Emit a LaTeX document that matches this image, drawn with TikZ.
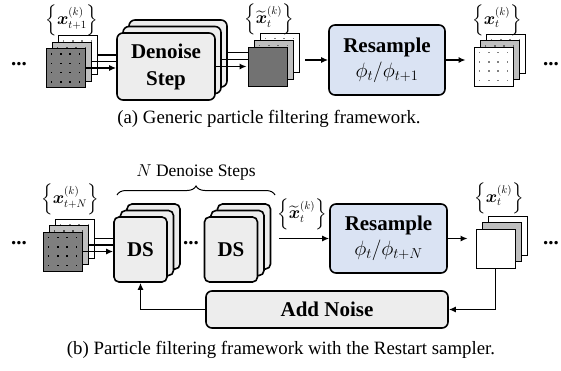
\documentclass[tikz,border=0pt]{standalone}
\usepackage{amsmath}
\usepackage{fontspec}
\setmainfont{Liberation Serif}
\usetikzlibrary{arrows.meta, decorations.pathreplacing, positioning}

\definecolor{boxgray}{HTML}{EDEDED}
\definecolor{resblue}{HTML}{DAE3F3}
\definecolor{sqmid}{HTML}{BFBFBF}
\definecolor{sqdark}{HTML}{7F7F7F}

\tikzset{
    sq/.style={draw, line width=0.8pt, minimum size=39pt, inner sep=0pt},
    dotgrid/.style={path picture={
        \foreach \u in {0.14,0.38,0.62,0.86}
            \foreach \v in {0.14,0.38,0.62,0.86}
                \fill[#1] ([shift={(\u*39pt-0.7pt,\v*39pt-0.7pt)}]path picture bounding box.south west) rectangle ++(1.4pt,1.4pt);
    }},
}

\begin{document}
\begin{tikzpicture}[x=1pt, y=-1pt,
        box/.style={draw, line width=1.6pt, rounded corners=6pt, fill=boxgray, inner sep=0pt,
            align=center, font=\fontsize{21}{27}\selectfont\bfseries},
        arr/.style={line width=1.5pt, -{Latex[length=7pt,width=6pt]}},
        lnk/.style={line width=1.5pt},
        lbl/.style={font=\fontsize{16}{19}\selectfont, inner sep=0pt},
        captext/.style={font=\fontsize{18.8}{22}\selectfont},
        more/.style={font=\fontsize{21}{25}\selectfont\bfseries},
    ]
    \useasboundingbox (0,0) rectangle (561,370);

    % (a) generic particle filtering
    \node[more] (more1l) at (19,64) {...};

    \node[sq, fill=white, dotgrid=gray] (in1a) at (77.5,55) {};
    \node[sq, fill=sqmid, dotgrid=black!70] (in1b) at (71.5,61.5) {};
    \node[sq, fill=sqdark, dotgrid=black] (in1c) at (65.5,68) {};
    \node[lbl] (lblin1) at (72,20) {$\Bigl\{\boldsymbol{x}_{t+1}^{(k)}\Bigr\}$};

    \node[box, minimum width=98pt, minimum height=67pt] (den3) at (178,53.5) {};
    \node[box, minimum width=98pt, minimum height=67pt] (den2) at (172,60) {};
    \node[box, minimum width=98pt, minimum height=67pt] (den1) at (166,66.5) {Denoise\\Step};

    \node[sq, fill=white, dotgrid=gray] (til1a) at (279.5,52.5) {};
    \node[sq, fill=sqmid, dotgrid=black!60] (til1b) at (273.5,59.5) {};
    \node[sq, fill=sqdark!90!black] (til1c) at (267.5,66.5) {};
    \node[lbl] (lbltil1) at (269,19) {$\Bigl\{\widetilde{\boldsymbol{x}}_{t}^{(k)}\Bigr\}$};

    \node[box, fill=resblue, minimum width=116pt, minimum height=70pt] (res1) at (387,60)
        {Resample\\[-2pt]{\mdseries$\phi_t/\phi_{t+1}$}};

    \node[sq, fill=white, dotgrid=gray] (out1a) at (505.5,53.5) {};
    \node[sq, fill=sqmid, dotgrid=black!60] (out1b) at (499.5,60) {};
    \node[sq, fill=white, dotgrid=gray] (out1c) at (493.5,66.5) {};
    \node[lbl] (lblout1) at (497,20) {$\Bigl\{\boldsymbol{x}_{t}^{(k)}\Bigr\}$};
    \node[more] (more1r) at (551,64) {...};

    \draw[lnk] (in1a.east) -- (in1a.east -| den1.west);
    \draw[lnk] (in1b.east) -- (in1b.east -| den1.west);
    \draw[arr] (in1c.east) -- (in1c.east -| den1.west);
    \draw[lnk] (den3.east |- til1a) -- (til1c.west |- til1a);
    \draw[lnk] (den2.east |- til1b) -- (til1c.west |- til1b);
    \draw[arr, shorten >=1pt] (den1.east |- til1c) -- (til1c.west);
    \draw[arr, shorten <=6pt] (til1a.east |- res1.west) -- (res1.west);
    \draw[arr, shorten >=8pt] (res1.east) -- (res1.east -| out1c.west);

    \node[captext] (capa) at (269,119) {(a) Generic particle filtering framework.};

    % (b) restart sampler
    \node[more] (more2l) at (19,243) {...};

    \node[sq, fill=white, dotgrid=gray] (in2a) at (74.5,238.5) {};
    \node[sq, fill=sqmid, dotgrid=black!70] (in2b) at (68.5,245) {};
    \node[sq, fill=sqdark, dotgrid=black] (in2c) at (62.5,251.5) {};
    \node[lbl] (lblin2) at (70,199) {$\Bigl\{\boldsymbol{x}_{t+N}^{(k)}\Bigr\}$};

    \node[box, rounded corners=5pt, minimum width=53pt, minimum height=65pt] (ds1a) at (153.5,236.5) {};
    \node[box, rounded corners=5pt, minimum width=53pt, minimum height=65pt] (ds1b) at (147,243) {};
    \node[box, rounded corners=5pt, minimum width=53pt, minimum height=65pt] (ds1) at (140.5,249.5) {DS};
    \node[more] (dsdots) at (191,243) {...};
    \node[box, rounded corners=5pt, minimum width=53pt, minimum height=65pt] (ds2a) at (244,236.5) {};
    \node[box, rounded corners=5pt, minimum width=53pt, minimum height=65pt] (ds2b) at (237.5,243) {};
    \node[box, rounded corners=5pt, minimum width=53pt, minimum height=65pt] (ds2) at (231,249.5) {DS};
    \draw[decorate, decoration={brace, amplitude=9pt}, line width=1pt] (117,195) -- (275,195)
        node[midway, above=14pt, lbl, font=\fontsize{17.5}{20}\selectfont] (nsteps) {$N$ Denoise Steps};
    \node[lbl] (lbltil2) at (302,214) {$\Bigl\{\widetilde{\boldsymbol{x}}_{t}^{(k)}\Bigr\}$};

    \node[box, fill=resblue, minimum width=117pt, minimum height=69pt] (res2) at (388.5,238.5)
        {Resample\\[-2pt]{\mdseries$\phi_t/\phi_{t+N}$}};

    \node[sq, fill=white] (out2a) at (507.5,235.5) {};
    \node[sq, fill=sqmid] (out2b) at (501.5,242) {};
    \node[sq, fill=white] (out2c) at (495.5,248.5) {};
    \node[lbl] (lblout2) at (499,198) {$\Bigl\{\boldsymbol{x}_{t}^{(k)}\Bigr\}$};
    \node[more] (more2r) at (551,243) {...};

    \node[box, minimum width=242pt, minimum height=37pt] (noise) at (327,309.5) {Add Noise};

    \draw[lnk] (in2a.east) -- (in2a.east -| ds1.west);
    \draw[lnk] (in2b.east) -- (in2b.east -| ds1.west);
    \draw[arr] (in2c.east) -- (in2c.east -| ds1.west);
    \draw[arr, shorten <=8pt] (ds2a.east |- res2.west) -- (res2.west);
    \draw[arr, shorten >=8pt] (res2.east) -- (res2.east -| out2c.west);
    \draw[arr] (out2c.south) |- (noise.east);
    \draw[arr] (noise.west) -| (ds1.south);

    \node[captext] (capb) at (281,350) {(b) Particle filtering framework with the Restart sampler.};
\end{tikzpicture}
\end{document}
